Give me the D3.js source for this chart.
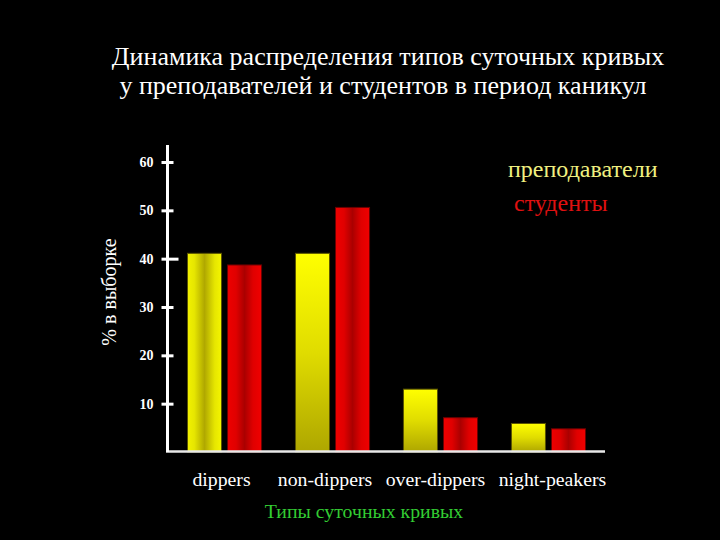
<!DOCTYPE html>
<html><head><meta charset="utf-8">
<script src="https://cdn.jsdelivr.net/npm/d3@7"></script>
<style>html,body{margin:0;padding:0;background:#000;}svg{display:block;}</style>
</head><body>
<svg id="c" width="720" height="540"></svg>
<script>
const categories = ["dippers", "non-dippers", "over-dippers", "night-peakers"];
const seriesNames = ["преподаватели", "студенты"];
const teachers = [41.1, 41.1, 13.0, 5.9];
const students = [38.7, 50.6, 7.1, 4.8];
const yTicks = [10, 20, 30, 40, 50, 60];
const titleLines = ["Динамика распределения типов суточных кривых", "у преподавателей и студентов в период каникул"];
const yTitle = "% в выборке";
const xTitle = "Типы суточных кривых";

const svg = d3.select("#c");
svg.append("rect").attr("width", 720).attr("height", 540).attr("fill", "#000");
const serif = "'Liberation Serif','Times New Roman',serif";

// gradients
const defs = svg.append("defs");
function grad(id, horiz, stops) {
  const g = defs.append("linearGradient").attr("id", id)
    .attr("x1", 0).attr("y1", 0).attr("x2", horiz ? 1 : 0).attr("y2", horiz ? 0 : 1);
  stops.forEach(s => g.append("stop").attr("offset", s[0]).attr("stop-color", s[1]));
}
grad("yelH", true, [[0, "#f2f200"], [0.2, "#e6e600"], [0.5, "#b0a800"], [0.8, "#e6e600"], [1, "#f5f500"]]);
grad("yelV", false, [[0, "#ffff00"], [0.5, "#e0dc00"], [1, "#aea600"]]);
grad("redH", true, [[0, "#ee0000"], [0.25, "#e00000"], [0.5, "#aa0000"], [0.75, "#e00000"], [1, "#f00000"]]);

const y = d3.scaleLinear().domain([0, 60]).range([452, 162]);
const x0 = d3.scaleBand().domain(categories).range([187.5, 585.5]).paddingInner(0.314).paddingOuter(0);
const x1 = d3.scaleBand().domain(seriesNames).range([0, x0.bandwidth()]).paddingInner(0.15);

const rows = categories.map((c, i) => ({cat: c, vals: [teachers[i], students[i]]}));

// bars
const g = svg.append("g");
rows.forEach((r, i) => {
  r.vals.forEach((v, j) => {
    const fill = j === 1 ? "url(#redH)" : (i === 0 ? "url(#yelH)" : "url(#yelV)");
    g.append("rect")
      .attr("x", x0(r.cat) + x1(seriesNames[j]))
      .attr("y", y(v))
      .attr("width", x1.bandwidth())
      .attr("height", y(0) - y(v))
      .attr("fill", fill)
      .attr("stroke", j === 1 ? "#6a0000" : "#5a5400")
      .attr("stroke-width", 1);
  });
});

// baseline
svg.append("line").attr("x1", 166).attr("x2", 605).attr("y1", 451.5).attr("y2", 451.5)
  .attr("stroke", "#e8e8e8").attr("stroke-width", 2.5);

// y axis
const yAxis = d3.axisLeft(y).tickValues(yTicks).tickSize(0).tickPadding(0);
const ax = svg.append("g").attr("transform", "translate(167.5,0)").call(yAxis);
ax.attr("font-size", null).attr("font-family", null);
ax.select(".domain").remove();
ax.selectAll(".tick line").remove();
ax.selectAll(".tick").append("line")
  .attr("x1", -6).attr("x2", d => d === 40 ? 11 : 6)
  .attr("stroke", "#fff").attr("stroke-width", 3);
ax.selectAll(".tick text")
  .attr("x", -14).attr("fill", "#fff")
  .style("font-family", serif).style("font-weight", "bold").style("font-size", "14px");
svg.append("line").attr("x1", 167.5).attr("x2", 167.5).attr("y1", 145).attr("y2", 452)
  .attr("stroke", "#fff").attr("stroke-width", 3);

// x labels (single text row in the original, slightly uneven spacing)
const labelShift = [-3, -7.5, -5, 4];
svg.append("g").selectAll("text").data(categories).join("text")
  .attr("x", (d, i) => x0(d) + x0.bandwidth() / 2 + labelShift[i])
  .attr("y", 486)
  .attr("text-anchor", "middle")
  .attr("fill", "#fff").attr("font-family", serif).attr("font-size", 19.8)
  .text(d => d);

// titles
svg.append("g").selectAll("text").data(titleLines).join("text")
  .attr("x", (d, i) => i === 0 ? 388 : 383)
  .attr("y", (d, i) => 65 + i * 29)
  .attr("text-anchor", "middle")
  .attr("fill", "#fff").attr("font-family", serif).attr("font-size", 26)
  .text(d => d);

// legend
svg.append("text").attr("x", 508).attr("y", 177).attr("fill", "#f0f080")
  .attr("font-family", serif).attr("font-size", 24).text(seriesNames[0]);
svg.append("text").attr("x", 514).attr("y", 211).attr("fill", "#e01010")
  .attr("font-family", serif).attr("font-size", 24).text(seriesNames[1]);

// axis titles
svg.append("text").attr("transform", "translate(116,292) rotate(-90)")
  .attr("text-anchor", "middle").attr("fill", "#fff")
  .attr("font-family", serif).attr("font-size", 20).text(yTitle);
svg.append("text").attr("x", 364).attr("y", 518).attr("text-anchor", "middle")
  .attr("fill", "#33cc33").attr("font-family", serif).attr("font-size", 19.8).text(xTitle);
</script>
</body></html>
